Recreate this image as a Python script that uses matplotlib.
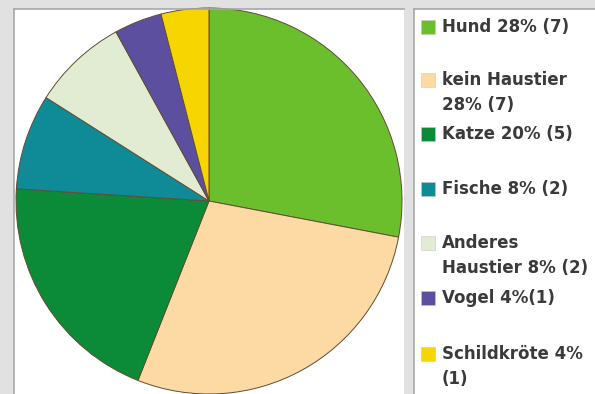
import matplotlib
matplotlib.use("Agg")
import matplotlib.pyplot as plt
from matplotlib.patches import Rectangle

labels = ["Hund 28% (7)", "kein Haustier\n28% (7)", "Katze 20% (5)", "Fische 8% (2)",
          "Anderes\nHaustier 8% (2)", "Vogel 4%(1)", "Schildkröte 4%\n(1)"]
counts = [7, 7, 5, 2, 2, 1, 1]
colors = ["#6cbf2c", "#fdd9a3", "#0b8a38", "#0f8b98", "#e2ecd3", "#5d4fa0", "#f7d500"]

W, H = 595, 394
fig = plt.figure(figsize=(W / 100, H / 100), dpi=100)
fig.patch.set_facecolor("#e1e1e1")

# pie panel, data units = pixels (y up)
ax = fig.add_axes([14 / W, 0, (404 - 14) / W, (H - 9) / H])
ax.set_facecolor("white")
ax.pie(counts, colors=colors, startangle=90, counterclock=False,
       center=(209, 193), radius=193, frame=True,
       wedgeprops=dict(edgecolor="#5e4e32", linewidth=0.7))
ax.set_xlim(14, 404)
ax.set_ylim(0, H - 9)
ax.set_aspect("auto")
ax.set_xticks([])
ax.set_yticks([])
for side in ["right", "bottom"]:
    ax.spines[side].set_visible(False)
for side in ["left", "top"]:
    ax.spines[side].set_color("#a8a8a8")
    ax.spines[side].set_linewidth(1.2)

# legend panel
lax = fig.add_axes([414 / W, 0, (W - 414) / W, (H - 9) / H])
lax.set_facecolor("white")
lax.set_xlim(414, W)
lax.set_ylim(H, 9)
lax.set_xticks([])
lax.set_yticks([])
for side in ["right", "bottom"]:
    lax.spines[side].set_visible(False)
for side in ["left", "top"]:
    lax.spines[side].set_color("#a8a8a8")
    lax.spines[side].set_linewidth(1.2)

rows = [27, 80, 134, 189, 243, 298, 354]
for lab, col, y in zip(labels, colors, rows):
    lax.add_patch(Rectangle((421, y - 7), 14, 14, facecolor=col,
                            edgecolor="#c8c8c8", linewidth=0.4))
    lax.text(442, y - 9.5, lab, fontsize=12, fontweight="bold", color="#3a3a3a",
             family="DejaVu Sans", va="top", ha="left", linespacing=1.55)

fig.savefig("out.png", dpi=100, facecolor=fig.get_facecolor())
